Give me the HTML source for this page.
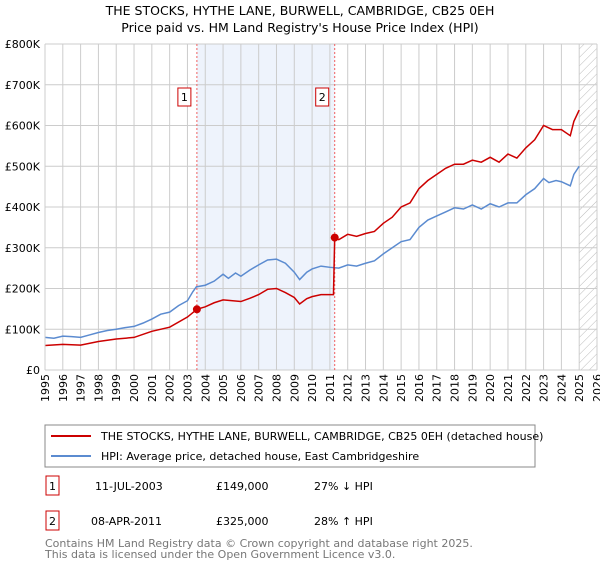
<!DOCTYPE html>
<html><head><meta charset="utf-8"><style>
body{margin:0;background:#fff;font-family:"Liberation Sans","DejaVu Sans",sans-serif;}
svg text{font-family:"DejaVu Sans","Liberation Sans",sans-serif;}
</style></head><body>
<svg id="c" width="600" height="560" xmlns="http://www.w3.org/2000/svg">
<defs><pattern id="hatch" width="6" height="6" patternUnits="userSpaceOnUse" patternTransform="rotate(45)"><line x1="0" y1="0" x2="0" y2="6" stroke="#bbb" stroke-width="1"/></pattern></defs>
<text x="300" y="15" text-anchor="middle" font-size="12.5" fill="#000">THE STOCKS, HYTHE LANE, BURWELL, CAMBRIDGE, CB25 0EH</text>
<text x="300" y="32" text-anchor="middle" font-size="12.5" fill="#000">Price paid vs. HM Land Registry's House Price Index (HPI)</text>
<g id="plot"></g>
<rect x="45" y="425" width="490" height="42" fill="#fff" stroke="#888"/>
<line x1="51" y1="436" x2="91" y2="436" stroke="#cc0000" stroke-width="2"/>
<text x="101" y="440" font-size="11">THE STOCKS, HYTHE LANE, BURWELL, CAMBRIDGE, CB25 0EH (detached house)</text>
<line x1="51" y1="456" x2="91" y2="456" stroke="#5b8bd0" stroke-width="2"/>
<text x="101" y="460" font-size="11">HPI: Average price, detached house, East Cambridgeshire</text>
<g font-size="11">
<rect x="46" y="476" width="13" height="19" fill="#fff" stroke="#cc0000"/><text x="52.5" y="490" text-anchor="middle">1</text>
<text x="95" y="490">11-JUL-2003</text><text x="216" y="490">£149,000</text><text x="314" y="490">27% ↓ HPI</text>
<rect x="46" y="511" width="13" height="19" fill="#fff" stroke="#cc0000"/><text x="52.5" y="525" text-anchor="middle">2</text>
<text x="91" y="525">08-APR-2011</text><text x="216" y="525">£325,000</text><text x="314" y="525">28% ↑ HPI</text>
</g>
<text x="45" y="547" font-size="11" fill="#777">Contains HM Land Registry data © Crown copyright and database right 2025.</text>
<text x="45" y="558" font-size="11" fill="#777">This data is licensed under the Open Government Licence v3.0.</text>
</svg>
<script>
const hpiYears=[1995,1995.5,1996,1996.5,1997,1997.5,1998,1998.5,1999,1999.5,2000,2000.5,2001,2001.5,2002,2002.5,2003,2003.3,2003.5,2004,2004.5,2005,2005.3,2005.7,2006,2006.5,2007,2007.5,2008,2008.5,2009,2009.3,2009.7,2010,2010.5,2011,2011.5,2012,2012.5,2013,2013.5,2014,2014.5,2015,2015.5,2016,2016.5,2017,2017.5,2018,2018.5,2019,2019.5,2020,2020.5,2021,2021.5,2022,2022.5,2023,2023.3,2023.7,2024,2024.5,2024.7,2025];
const hpiValues=[80,78,83,82,80,86,92,97,100,104,107,115,125,137,142,158,170,192,204,208,218,235,225,238,230,245,258,270,272,262,240,222,240,248,255,252,250,258,255,262,268,285,300,315,320,350,368,378,388,398,395,405,395,408,400,410,410,430,445,470,460,465,462,452,480,500];
const priceYears=[1995,1996,1997,1998,1999,2000,2001,2002,2003,2003.53,2004,2004.5,2005,2006,2006.5,2007,2007.5,2008,2008.5,2009,2009.3,2009.7,2010,2010.5,2011.2,2011.27,2011.5,2012,2012.5,2013,2013.5,2014,2014.5,2015,2015.5,2016,2016.5,2017,2017.5,2018,2018.5,2019,2019.5,2020,2020.5,2021,2021.5,2022,2022.5,2023,2023.5,2024,2024.5,2024.7,2025];
const priceValues=[60,63,61,70,76,80,95,105,130,149,155,165,172,168,176,185,198,200,190,178,162,175,180,185,185,325,320,333,328,335,340,360,375,400,410,445,465,480,495,505,505,515,510,522,510,530,520,545,565,600,590,590,575,610,638];
const saleYears=[2003.53,2011.27];
const saleValues=[149,325];
const saleLabels=["1","2"];
const yTicks=[0,100,200,300,400,500,600,700,800];
const yTickLabels=["£0","£100K","£200K","£300K","£400K","£500K","£600K","£700K","£800K"];
const xTicks=[1995,1996,1997,1998,1999,2000,2001,2002,2003,2004,2005,2006,2007,2008,2009,2010,2011,2012,2013,2014,2015,2016,2017,2018,2019,2020,2021,2022,2023,2024,2025,2026];

const X0=45,X1=597,Y0=370,Y1=44;
const xs=y=>X0+(y-1995)/(2026-1995)*(X1-X0);
const ys=v=>Y0-v/800*(Y0-Y1);
const NS="http://www.w3.org/2000/svg";
const g=document.getElementById('plot');
function mk(t,a){const e=document.createElementNS(NS,t);for(const k in a)e.setAttribute(k,a[k]);g.appendChild(e);return e;}
let e=mk('rect',{x:xs(saleYears[0]),y:Y1,width:xs(saleYears[1])-xs(saleYears[0]),height:Y0-Y1,fill:'#eef3fc'});


e=mk('rect',{x:xs(2025),y:Y1,width:X1-xs(2025),height:Y0-Y1,fill:'url(#hatch)'});


xTicks.forEach(t=>{
 const l=mk('line',{x1:xs(t),x2:xs(t),y1:Y1,y2:Y0,stroke:'#ccc','stroke-width':1});
 
 
 const tx=mk('text',{x:0,y:0,'font-size':11,'text-anchor':'end',transform:`translate(${xs(t)+4},374) rotate(-90)`});
 tx.textContent=t;
 
 
});
yTicks.forEach((t,i)=>{
 const l=mk('line',{x1:X0,x2:X1,y1:ys(t),y2:ys(t),stroke:'#ccc','stroke-width':1});
 
 
 const tx=mk('text',{x:40,y:ys(t)+4,'font-size':11,'text-anchor':'end'});
 tx.textContent=yTickLabels[i];
 
 
});
saleYears.forEach((s,i)=>{
 const l=mk('line',{x1:xs(s),x2:xs(s),y1:Y1,y2:Y0,stroke:'#f06060','stroke-dasharray':'2,2','stroke-width':1});
 
 
 const r=mk('rect',{x:xs(s)-19+(i?0:0)-0,y:88,width:13,height:18,fill:'#fff',stroke:'#cc0000'});
 
 
 const tx=mk('text',{x:xs(s)-12.5,y:101,'font-size':11,'text-anchor':'middle'});
 tx.textContent=saleLabels[i];
 
 
});
e=mk('polyline',{points:hpiYears.map((y,i)=>xs(y)+','+ys(hpiValues[i])).join(' '),fill:'none',stroke:'#5b8bd0','stroke-width':1.5});


e=mk('polyline',{points:priceYears.map((y,i)=>xs(y)+','+ys(priceValues[i])).join(' '),fill:'none',stroke:'#cc0000','stroke-width':1.5});


saleYears.forEach((s,i)=>{
 const c=mk('circle',{cx:xs(s),cy:ys(saleValues[i]),r:4,fill:'#cc0000'});
 
 
});
e=mk('line',{x1:X0,x2:X0,y1:Y1,y2:Y0,stroke:'#ccc'});


</script>
</body></html>
